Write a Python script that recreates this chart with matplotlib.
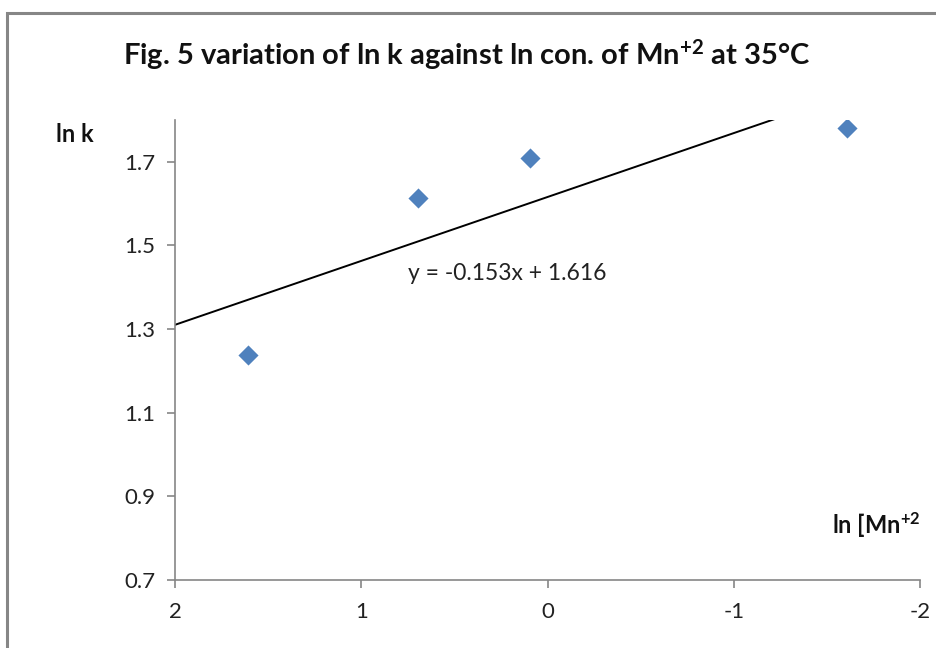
import numpy as np
import matplotlib.pyplot as plt
from matplotlib.patches import Rectangle

plt.rcParams['font.family'] = ['Lato', 'DejaVu Sans']
plt.rcParams['mathtext.default'] = 'regular'

# ln [Mn+2] and ln k
ln_conc = [1.609, 0.693, 0.095, -1.609]
ln_k = [1.238, 1.614, 1.710, 1.781]
x_ticks = [2, 1, 0, -1, -2]
y_ticks = [0.7, 0.9, 1.1, 1.3, 1.5, 1.7]

slope, intercept = np.polyfit(ln_conc, ln_k, 1)

fig = plt.figure(figsize=(9.37, 6.48), dpi=100)
ax = fig.add_axes([175 / 937, 1 - 580 / 648, 745 / 937, 460 / 648])

axis_grey = '#868686'
ax.scatter(ln_conc, ln_k, marker='D', s=105, color='#4F81BD', linewidths=0, zorder=3)

xs = np.array([2.0, -2.0])
ax.plot(xs, slope * xs + intercept, color='black', lw=1.4, zorder=2)

ax.set_xlim(2, -2)
ax.set_ylim(0.7, 1.8)
ax.set_xticks(x_ticks)
ax.set_xticklabels([str(t) for t in x_ticks])
ax.set_yticks(y_ticks)
ax.set_yticklabels(['%.1f' % t for t in y_ticks])

for side in ['top', 'right']:
    ax.spines[side].set_visible(False)
for side in ['left', 'bottom']:
    ax.spines[side].set_color(axis_grey)
    ax.spines[side].set_linewidth(1.2)
ax.tick_params(axis='both', colors=axis_grey, labelcolor='#222222',
               length=6, width=1.2, labelsize=16)
ax.tick_params(axis='x', pad=10)
ax.tick_params(axis='y', pad=8)

ax.text(0.215, 1.434, 'y = %.3fx + %.3f' % (slope, intercept),
        fontsize=16.5, color='#222222', ha='center', va='center')

fig.text(467 / 937, 1 - 55 / 648, 'Fig. 5 variation of ln k against ln con. of Mn$^{+2}$ at 35°C',
         fontsize=21, fontweight='bold', ha='center', va='center', color='#111111')
fig.text(56 / 937, 1 - 135 / 648, 'ln k', fontsize=17, fontweight='bold',
         ha='left', va='center', color='#111111')
fig.text(921 / 937, 1 - 525 / 648, 'ln [Mn$^{+2}$', fontsize=17, fontweight='bold',
         ha='right', va='center', color='#111111')

fig.patches.append(Rectangle((7 / 937, -0.1), 1.2, 1 - 13 / 648 + 0.1,
                             transform=fig.transFigure, fill=False,
                             edgecolor=axis_grey, lw=2.2))

plt.savefig('out.png', dpi=100)
